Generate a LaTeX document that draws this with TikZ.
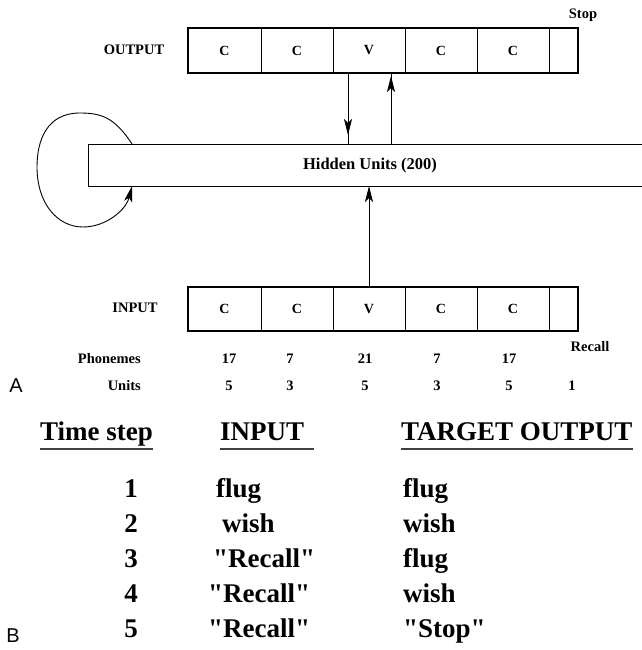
\documentclass[tikz,border=0pt]{standalone}
\usepackage{fontspec}
\setmainfont{Liberation Serif}
\newfontfamily\panelfont{Liberation Sans}
\usetikzlibrary{arrows.meta}

\begin{document}
\begin{tikzpicture}[x=1pt,y=-1pt,
  cell/.style={draw, line width=0.8pt, minimum height=45pt, inner sep=0pt, outer sep=0pt,
               font=\bfseries\fontsize{14}{14}\selectfont},
  frame/.style={line width=1.8pt},
  lbl/.style={font=\bfseries\fontsize{14.5}{16}\selectfont, inner sep=0pt},
  conn/.style={line width=0.9pt},
  tip/.style={-{Stealth[length=16pt,width=8pt,inset=4pt]}},
  tab/.style={font=\bfseries\fontsize{27}{29}\selectfont, inner sep=0pt, anchor=base west},
  num/.style={font=\bfseries\fontsize{27}{29}\selectfont, inner sep=0pt, anchor=base},
  uline/.style={line width=2pt, black!75},
  panel/.style={font=\panelfont\fontsize{20}{20}\selectfont, inner sep=0pt}
]
\useasboundingbox (0,0) rectangle (641,650);

% output and input slot rows (C C V C C + end-marker unit)
\foreach \n/\cx/\w/\t in {1/224.5/73/C, 2/297/72/C, 3/369/72/V, 4/441/72/C, 5/513/72/C, 6/563.5/29/{}} {
  \node[cell, minimum width=\w pt] (o\n) at (\cx,50.5) {\t};
  \node[cell, minimum width=\w pt, minimum height=44pt] (i\n) at (\cx,309) {\t};
}
\draw[frame] (o1.north west) rectangle (o6.south east);
\draw[frame] (i1.north west) rectangle (i6.south east);

\node[lbl] (outlbl) at (134,50) {OUTPUT};
\node[lbl] (inlbl) at (135,308) {INPUT};
\node[lbl] (stop) at (583,15) {Stop};
\node[lbl] (recall) at (590,347) {Recall};

% hidden layer
\node[draw, line width=0.8pt, minimum height=42pt, minimum width=580pt,
      inner sep=0pt, outer sep=0pt, anchor=west] (hid) at (88,165) {};
\node[lbl, font=\bfseries\fontsize{16.5}{17}\selectfont] (hidtxt) at (370,166) {Hidden Units (200)};

% hidden -> output and output -> hidden
\draw[conn] ([xshift=-21pt]o3.south) -- ([xshift=-21pt]o3.south |- hid.north);
\draw[conn, tip, shorten >=9pt] ([xshift=-21pt]o3.south) -- ([xshift=-21pt]o3.south |- hid.north);
\draw[conn] ([xshift=22pt]o3.south |- hid.north) -- ([xshift=22pt]o3.south);
\draw[conn, tip, shorten >=3pt] ([xshift=22pt]o3.south |- hid.north) -- ([xshift=22pt]o3.south);

% input -> hidden
\draw[conn, tip] (i3.north) -- (i3.north |- hid.south);

% recurrent loop on the hidden layer
\draw[conn, tip] ([xshift=44pt]hid.north west)
  .. controls (115,118) and (102,113) .. (80,113)
  .. controls (47,113) and (37,140) .. (37,167)
  .. controls (37,203) and (57,227) .. (83,227)
  .. controls (106,227) and (126,210) .. ([xshift=44pt]hid.south west);

% phoneme and unit counts
\node[lbl, anchor=east] (phon) at (141,359) {Phonemes};
\node[lbl, anchor=east] (units) at (141,386) {Units};
\foreach \x/\p/\u [count=\k] in {229/17/5, 290/7/3, 365/21/5, 437/7/3, 509/17/5} {
  \node[lbl] (p\k) at (\x,359) {\p};
  \node[lbl] (u\k) at (\x,386) {\u};
}
\node[lbl] (u6) at (572,386) {1};

\node[panel] (pa) at (16,386) {A};
\node[panel] (pb) at (13,636) {B};

% training sequence table
\node[tab] (hts) at (40,440) {Time step};
\node[tab] (hin) at (220,440) {INPUT};
\node[tab] (hout) at (401,440) {TARGET OUTPUT};
\draw[uline] ([yshift=-9pt]hts.base west) -- ([yshift=-9pt]hts.base east);
\draw[uline] ([yshift=-9pt]hin.base west) -- ([yshift=-9pt,xshift=10pt]hin.base east);
\draw[uline] ([yshift=-9pt]hout.base west) -- ([yshift=-9pt]hout.base east);

\foreach \y/\n/\xi/\inp/\outp [count=\k] in {
    497/1/216/flug/flug,
    532/2/222/wish/wish,
    567/3/213/{\textquotedbl Recall\textquotedbl}/flug,
    602/4/208/{\textquotedbl Recall\textquotedbl}/wish,
    637/5/208/{\textquotedbl Recall\textquotedbl}/{\textquotedbl Stop\textquotedbl}} {
  \node[num] (t\k) at (131,\y) {\n};
  \node[tab] (in\k) at (\xi,\y) {\inp};
  \node[tab] (out\k) at (403,\y) {\outp};
}
\end{tikzpicture}
\end{document}
